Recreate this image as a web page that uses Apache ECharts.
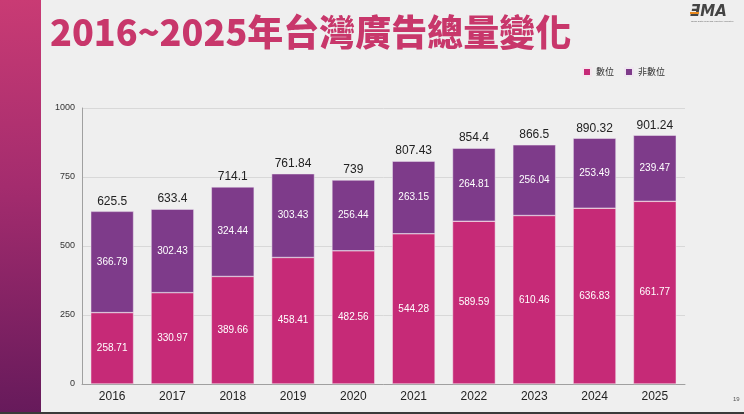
<!DOCTYPE html>
<html lang="zh-Hant">
  <head>
    <meta charset="UTF-8" />
    <title>2016~2025年台灣廣告總量變化</title>
    <script src="https://cdn.jsdelivr.net/npm/echarts@6/dist/echarts.min.js"></script>
    <style>
      html, body { margin: 0; padding: 0; background: #efefef; }
      #main { width: 744px; height: 414px; }
    </style>
  </head>
  <body>
    <div id="main"></div>
    <script>
      // data
      const years = ['2016', '2017', '2018', '2019', '2020', '2021', '2022', '2023', '2024', '2025'];
      const digital = [258.71, 330.97, 389.66, 458.41, 482.56, 544.28, 589.59, 610.46, 636.83, 661.77];
      const nonDigital = [366.79, 302.43, 324.44, 303.43, 256.44, 263.15, 264.81, 256.04, 253.49, 239.47];
      const totals = [625.5, 633.4, 714.1, 761.84, 739, 807.43, 854.4, 866.5, 890.32, 901.24];
      const yTicks = [0, 250, 500, 750, 1000];

      const mCharts = echarts.init(document.getElementById('main'));
      const cjk = '"Noto Sans CJK TC", "Noto Sans", sans-serif';
      const font = '"Liberation Sans", "Noto Sans CJK TC", sans-serif';

      const option = {
        backgroundColor: '#efefef',
        textStyle: { fontFamily: font },
        animation: false,
        graphic: [
          {
            type: 'rect',
            shape: { x: 0, y: 0, width: 41, height: 414 },
            style: {
              fill: new echarts.graphic.LinearGradient(0, 0, 0.3, 1, [
                { offset: 0, color: '#c93b74' },
                { offset: 0.45, color: '#a42c6e' },
                { offset: 1, color: '#661a5b' }
              ])
            }
          },
          {
            type: 'rect',
            shape: { x: 0, y: 412, width: 744, height: 2 },
            style: { fill: '#3a3a3a' }
          },
          {
            type: 'text',
            left: 50,
            top: 14,
            style: {
              text: '2016~2025年台灣廣告總量變化',
              font: '900 36px ' + cjk,
              fill: '#c8376b'
            }
          },
          {
            type: 'text',
            left: 690,
            top: 5,
            style: {
              text: 'ƎMA',
              font: 'italic bold 15px "DejaVu Sans", sans-serif',
              fill: '#444'
            }
          },
          {
            type: 'rect',
            shape: { x: 690, y: 12, width: 9, height: 2 },
            style: { fill: '#e8891f' }
          },
          {
            type: 'text',
            left: 691,
            top: 20,
            style: {
              text: 'Taiwan Digital Media and Marketing Association',
              font: '2px sans-serif',
              fill: '#666'
            }
          },
          {
            type: 'text',
            left: 733,
            top: 396,
            style: { text: '19', font: '6px sans-serif', fill: '#555' }
          }
        ],
        legend: {
          data: ['數位', '非數位'],
          left: 577,
          top: 62,
          itemWidth: 8,
          itemHeight: 8,
          itemGap: 10,
          icon: 'rect',
          textStyle: { fontSize: 9, color: '#333', fontFamily: cjk }
        },
        grid: { left: 82, right: 59, top: 108, bottom: 30 },
        xAxis: {
          type: 'category',
          data: years,
          axisTick: { show: false },
          axisLine: { lineStyle: { color: '#a0a0a0' } },
          axisLabel: { color: '#222', fontSize: 12, margin: 7 }
        },
        yAxis: {
          type: 'value',
          min: yTicks[0],
          max: yTicks[yTicks.length - 1],
          interval: 250,
          axisLine: { show: true, lineStyle: { color: '#a0a0a0' } },
          axisTick: { show: false },
          axisLabel: {
            color: '#333',
            fontSize: 9,
            margin: 7,
            formatter: function (v) {
              return String(v);
            }
          },
          splitLine: { lineStyle: { color: '#d8d8d8' } }
        },
        series: [
          {
            name: '數位',
            type: 'bar',
            stack: 'all',
            data: digital,
            barCategoryGap: '29%',
            itemStyle: { color: '#c62a77', borderColor: '#f4e6ee', borderWidth: 0.5 },
            label: { show: true, position: 'inside', color: '#fff', fontSize: 10 }
          },
          {
            name: '非數位',
            type: 'bar',
            stack: 'all',
            data: nonDigital,
            itemStyle: { color: '#7e3b8a', borderColor: '#efe6f0', borderWidth: 0.5 },
            label: { show: true, position: 'inside', color: '#fff', fontSize: 10 }
          },
          {
            name: '總量',
            type: 'bar',
            data: totals,
            barGap: '-100%',
            silent: true,
            z: 1,
            itemStyle: { color: 'rgba(0,0,0,0)' },
            label: { show: true, position: 'top', color: '#222', fontSize: 12, distance: 4 }
          }
        ]
      };
      mCharts.setOption(option);
    </script>
  </body>
</html>
